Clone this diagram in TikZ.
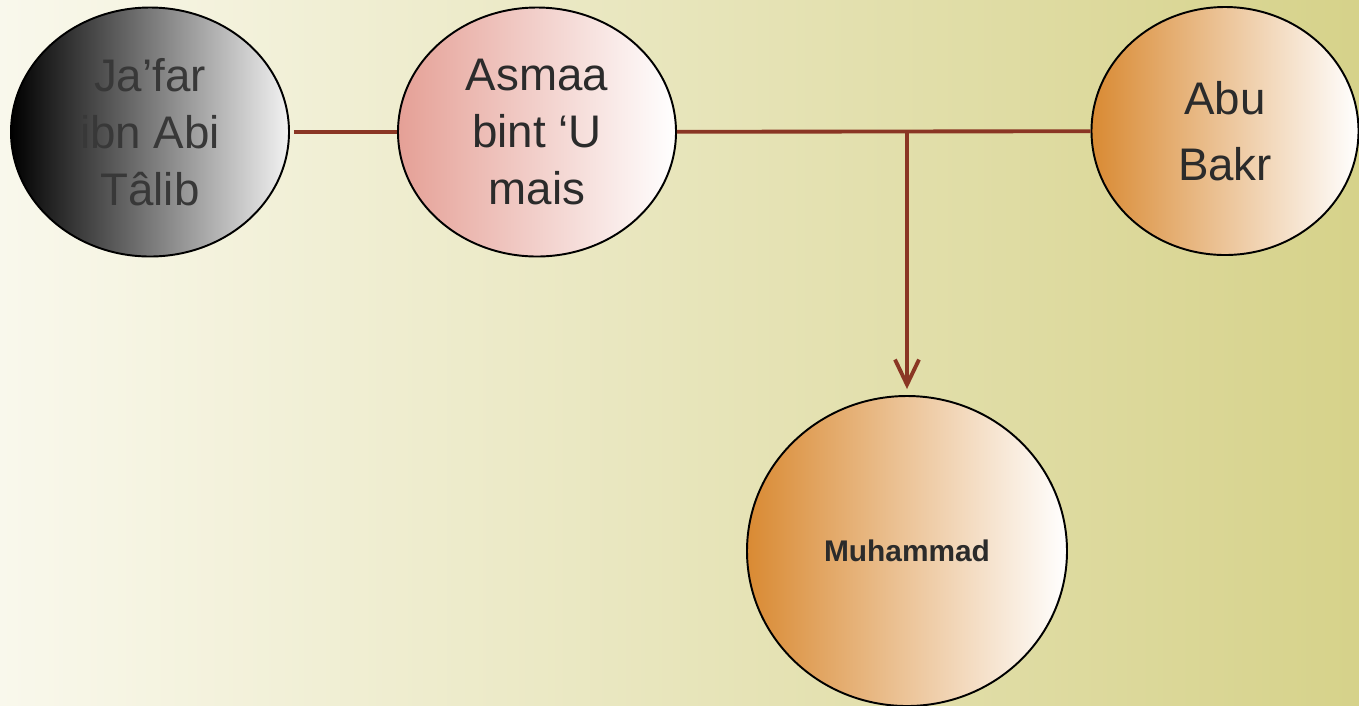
\documentclass[tikz,border=0pt]{standalone}
\usepackage{fontspec}
\setmainfont{Liberation Sans}
\usetikzlibrary{shapes.geometric,arrows.meta}

\definecolor{bgleft}{HTML}{F9F8EC}
\definecolor{bgright}{HTML}{D6D28A}
\definecolor{linkred}{HTML}{8A3624}
\definecolor{txtgray}{HTML}{2B2B2B}
\definecolor{rose}{HTML}{E5A096}
\definecolor{ochre}{HTML}{D98A33}

\begin{document}
\begin{tikzpicture}
  \tikzset{>={Straight Barb[length=0.5cm,width=0.48cm]}}
  \tikzset{person/.style={ellipse,draw=black,line width=1.1pt,inner sep=0pt,align=center,text=txtgray,
      minimum width=5.56cm,minimum height=4.98cm,font=\fontsize{26}{32.4}\selectfont}}
  \tikzset{link/.style={draw=linkred,line width=2.2pt}}

  % background
  \shade[left color=bgleft,right color=bgright] (0,0) rectangle (27.18,-14.1);
  \useasboundingbox (0,0) rectangle (27.18,-14.1);

  \node[person,left color=black,right color=white!95!black,text=black!78] (jafar) at (3.0,-2.64) {Ja’far\\ibn Abi\\Tâlib};
  \node[person,left color=rose,right color=white] (asmaa) at (10.74,-2.64) {Asmaa\\bint ‘U\\mais};
  \node[person,left color=ochre,right color=white,minimum width=5.34cm,minimum height=4.96cm,
    font=\fontsize{26}{37.5}\selectfont] (abubakr) at (24.5,-2.62) {Abu\\Bakr};
  \node[person,left color=ochre,right color=white,minimum width=6.4cm,minimum height=6.2cm,
    font=\fontsize{17}{21}\bfseries] (muhammad) at (18.14,-11.02) {Muhammad};

  \draw[link,shorten <=0.08cm] (jafar) -- (asmaa);
  \draw[link] (asmaa) -- (abubakr);
  \coordinate (join) at (muhammad |- abubakr.west);
  \draw[link,->,shorten >=0.12cm] (join) -- (muhammad.north);

\end{tikzpicture}
\end{document}
